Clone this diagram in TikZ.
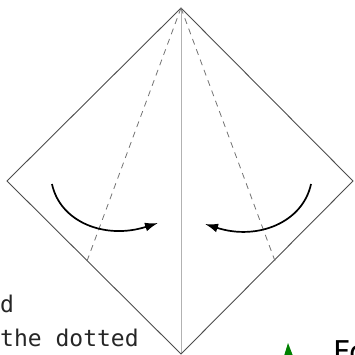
\documentclass[tikz,border=0pt]{standalone}
\usepackage{fontspec}
\setmonofont{DejaVu Sans Mono}
\setsansfont{DejaVu Sans}
\usepackage{tikz}
\usetikzlibrary{positioning}
\usetikzlibrary{arrows,arrows.meta}
\tikzset{pli/.style={draw=black!70, line width=0.9pt}}
\tikzset{milieu/.style={draw=black!30, line width=0.7pt}}
\tikzset{vallee/.style={draw=black!55, line width=0.8pt, dash pattern=on 6pt off 5pt}}
\tikzset{tourne/.style={line width=1.7pt, -{Latex[length=13pt,width=9pt]}}}
\tikzset{legende/.style={inner sep=0pt, anchor=base west, font=\ttfamily\fontsize{23}{26}\selectfont, text=black!85}}

\begin{document}
\begin{tikzpicture}[x=1pt,y=-1pt]
\useasboundingbox (0,0) rectangle (354,355);
\coordinate(H) at (181,8);
\coordinate(G) at (7,181);
\coordinate(D) at (353,181);
\coordinate(B) at (181,354);
\coordinate(Pg) at (87,261);
\coordinate(Pd) at (275,261);
\coordinate(Ag) at (52,184);
\coordinate(Fg) at (158,223);
\coordinate(Ad) at (311,184);
\coordinate(Fd) at (205,224);

\draw[milieu] (H)--(B);
\draw[pli] (H)--(G)--(B)--(D)--cycle;
\draw[vallee] (H)--(Pg);
\draw[vallee] (H)--(Pd);

\draw[tourne] (Ag) .. controls (60,222) and (105,240) .. (Fg);
\draw[tourne] (Ad) .. controls (303,222) and (258,241) .. (Fd);

\node(L1) at (0,312) [legende] {d};
\node(L2) at (0,346) [legende] {the dotted};
\node(L3) at (333,362) [inner sep=0pt, anchor=base west, font=\sffamily\fontsize{30}{34}\selectfont] {Fo};
\fill[green!50!black] (284,356)--(288,343)--(293,356)--cycle;
\end{tikzpicture}
\end{document}
